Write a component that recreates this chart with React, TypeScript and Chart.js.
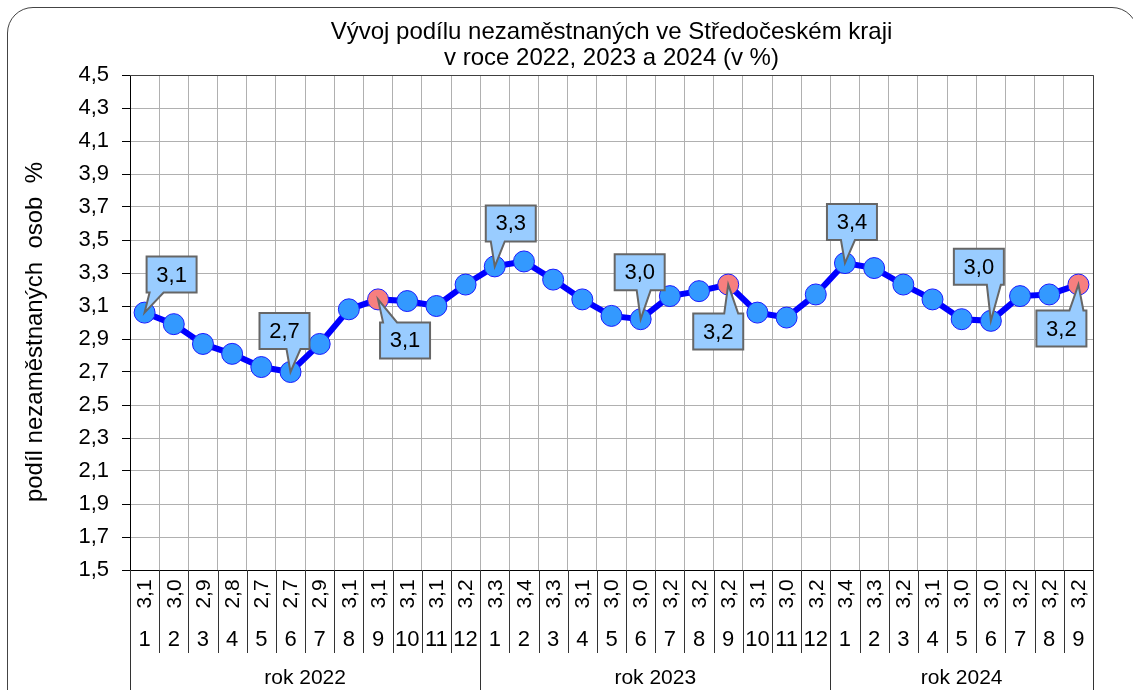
import React, { useEffect, useRef } from 'react';
import { Chart, registerables } from 'chart.js';

Chart.register(...registerables);

// ---------- data ----------
const titleLines = ['Vývoj podílu nezaměstnaných ve Středočeském kraji', 'v roce 2022, 2023 a 2024 (v %)'];
const yAxisTitle = 'podíl nezaměstnaných  osob  %';
const yearLabels = ['rok 2022', 'rok 2023', 'rok 2024'];
const months2022 = ['1', '2', '3', '4', '5', '6', '7', '8', '9', '10', '11', '12'];
const months2023 = ['1', '2', '3', '4', '5', '6', '7', '8', '9', '10', '11', '12'];
const months2024 = ['1', '2', '3', '4', '5', '6', '7', '8', '9'];
const values2022 = [3.06, 2.99, 2.87, 2.81, 2.73, 2.70, 2.87, 3.08, 3.14, 3.13, 3.10, 3.23];
const values2023 = [3.34, 3.37, 3.26, 3.14, 3.04, 3.02, 3.16, 3.19, 3.23, 3.06, 3.03, 3.17];
const values2024 = [3.36, 3.33, 3.23, 3.14, 3.02, 3.01, 3.16, 3.17, 3.23];
const yMin = 1.5;
const yMax = 4.5;
const yStep = 0.2;
const highlightedIdx = [8, 20, 32];
const calloutIdx = [0, 5, 8, 12, 17, 20, 24, 29, 32];

// ---------- layout / style ----------
const calloutOffsets: Record<number, [number, number]> = {
  0: [27, -38],
  5: [-6, -41],
  8: [27, 41],
  12: [16, -43],
  17: [-1, -47],
  20: [-10, 47],
  24: [7, -41],
  29: [-12, -54],
  32: [-17, 44],
};
const FONT = '"Liberation Sans", Arial, sans-serif';
const W = 1133;
const H = 690;

const monthGroups = [months2022, months2023, months2024];
const valueGroups = [values2022, values2023, values2024];
const categories: string[] = [];
const groupOf: number[] = [];
monthGroups.forEach((g, gi) => g.forEach((m) => { categories.push(m); groupOf.push(gi); }));
const values: number[] = ([] as number[]).concat(...valueGroups);

const fmt = (v: number) => v.toFixed(1).replace('.', ',');

const customPlugin = {
  id: 'customDraw',
  afterDatasetsDraw(chart: any) {
    const ctx = chart.ctx as CanvasRenderingContext2D;
    const meta = chart.getDatasetMeta(0);
    ctx.save();
    calloutIdx.forEach((i) => {
      const el = meta.data[i];
      const px = el.x;
      const py = el.y;
      const [dx, dy] = calloutOffsets[i];
      const w = 50;
      const h = 36;
      const cx = px + dx;
      const cy = py + dy;
      const l = cx - w / 2, r = cx + w / 2, t = cy - h / 2, b = cy + h / 2;
      const bc = Math.min(Math.max(px + 3, l + 10), r - 10);
      ctx.beginPath();
      if (py > b) {
        ctx.moveTo(l, t); ctx.lineTo(r, t); ctx.lineTo(r, b); ctx.lineTo(bc + 7, b);
        ctx.lineTo(px, py); ctx.lineTo(bc - 7, b); ctx.lineTo(l, b); ctx.closePath();
      } else {
        ctx.moveTo(l, t); ctx.lineTo(bc - 7, t); ctx.lineTo(px, py); ctx.lineTo(bc + 7, t);
        ctx.lineTo(r, t); ctx.lineTo(r, b); ctx.lineTo(l, b); ctx.closePath();
      }
      ctx.fillStyle = '#99ccff';
      ctx.fill();
      ctx.lineWidth = 2;
      ctx.strokeStyle = '#666666';
      ctx.lineJoin = 'miter';
      ctx.stroke();
      ctx.fillStyle = '#000';
      ctx.font = `22px ${FONT}`;
      ctx.textAlign = 'center';
      ctx.textBaseline = 'middle';
      ctx.fillText(fmt(values[i]), cx, cy + 1);
    });
    ctx.restore();
  },
  afterDraw(chart: any) {
    const ctx = chart.ctx as CanvasRenderingContext2D;
    const area = chart.chartArea;
    const xs = chart.scales.x;
    const n = categories.length;
    const colW = (area.right - area.left) / n;
    ctx.save();
    // plot frame top & right
    ctx.strokeStyle = '#404040';
    ctx.lineWidth = 1;
    ctx.beginPath();
    ctx.moveTo(area.left, area.top + 0.5);
    ctx.lineTo(area.right + 0.5, area.top + 0.5);
    ctx.lineTo(area.right + 0.5, area.bottom);
    ctx.stroke();

    // title
    ctx.fillStyle = '#000';
    ctx.font = `24px ${FONT}`;
    ctx.textAlign = 'center';
    ctx.textBaseline = 'middle';
    const tcx = (area.left + area.right) / 2;
    ctx.fillText(titleLines[0], tcx, 32);
    ctx.fillText(titleLines[1], tcx, 58);

    // y axis title
    ctx.save();
    ctx.translate(35, 332);
    ctx.rotate(-Math.PI / 2);
    ctx.font = `24px ${FONT}`;
    ctx.fillText(yAxisTitle, 0, 0);
    ctx.restore();

    // table below the axis
    const rowTop = area.bottom;
    const rowMid = rowTop + 83;
    ctx.strokeStyle = '#333';
    ctx.lineWidth = 1;
    for (let i = 0; i <= n; i++) {
      const x = Math.round(area.left + i * colW) + 0.5;
      const full = i === 0 || i === n || groupOf[i] !== groupOf[i - 1];
      ctx.beginPath();
      ctx.moveTo(x, rowTop);
      ctx.lineTo(x, full ? H : rowMid);
      ctx.stroke();
    }
    ctx.fillStyle = '#000';
    for (let i = 0; i < n; i++) {
      const cx = xs.getPixelForValue(i);
      ctx.save();
      ctx.translate(cx + 1, rowTop + 24);
      ctx.rotate(-Math.PI / 2);
      ctx.font = `21px ${FONT}`;
      ctx.textAlign = 'center';
      ctx.textBaseline = 'middle';
      ctx.fillText(fmt(values[i]), 0, 0);
      ctx.restore();
      ctx.font = `22px ${FONT}`;
      ctx.textAlign = 'center';
      ctx.textBaseline = 'middle';
      ctx.fillText(categories[i], cx, rowTop + 70);
    }
    // year labels
    let start = 0;
    yearLabels.forEach((lab, gi) => {
      const len = monthGroups[gi].length;
      const x0 = area.left + start * colW;
      const x1 = area.left + (start + len) * colW;
      ctx.font = `21px ${FONT}`;
      ctx.fillText(lab, (x0 + x1) / 2, rowTop + 108);
      start += len;
    });
    ctx.restore();
  },
};

export default function App() {
  const canvasRef = useRef<HTMLCanvasElement | null>(null);
  useEffect(() => {
    if (!canvasRef.current) return;
    const pointColors = values.map((_, i) => (highlightedIdx.includes(i) ? '#f77f7f' : '#3399ff'));
    const chart = new Chart(canvasRef.current, {
      type: 'line',
      data: {
        labels: categories,
        datasets: [
          {
            data: values,
            borderColor: '#0000ff',
            borderWidth: 6,
            tension: 0,
            pointRadius: 10.5,
            pointBackgroundColor: pointColors,
            pointBorderColor: '#1a1aff',
            pointBorderWidth: 1,
          },
        ],
      },
      options: {
        responsive: false,
        animation: false,
        layout: { padding: { top: 75, right: 40, left: 0, bottom: 0 } },
        plugins: {
          legend: { display: false },
          title: { display: false },
          tooltip: { enabled: false },
        },
        scales: {
          x: {
            type: 'category',
            offset: true,
            grid: { color: '#b0b0b0', offset: true, drawTicks: false },
            border: { color: '#000', width: 1 },
            ticks: { display: false },
            afterFit: (s: any) => { s.height = 120; },
          },
          y: {
            min: yMin,
            max: yMax,
            grid: { color: '#b0b0b0', tickColor: '#000', tickLength: 8 },
            border: { color: '#000', width: 1 },
            ticks: {
              stepSize: yStep,
              padding: 13,
              color: '#000',
              font: { family: FONT, size: 22 },
              callback: (v: any) => fmt(Number(v)),
            },
            afterFit: (s: any) => { s.width = 130; },
          },
        },
      },
      plugins: [customPlugin],
    });
    return () => chart.destroy();
  }, []);

  return (
    <div style={{ position: 'fixed', left: 0, top: 0, width: W, height: H, overflow: 'hidden', background: '#fff' }}>
      <div
        style={{
          position: 'absolute',
          left: 7,
          top: 7,
          width: 1131,
          height: 720,
          border: '1.5px solid #444',
          borderRadius: 26,
          boxSizing: 'border-box',
        }}
      />
      <canvas ref={canvasRef} width={W} height={H} style={{ position: 'absolute', left: 0, top: 0 }} />
    </div>
  );
}
